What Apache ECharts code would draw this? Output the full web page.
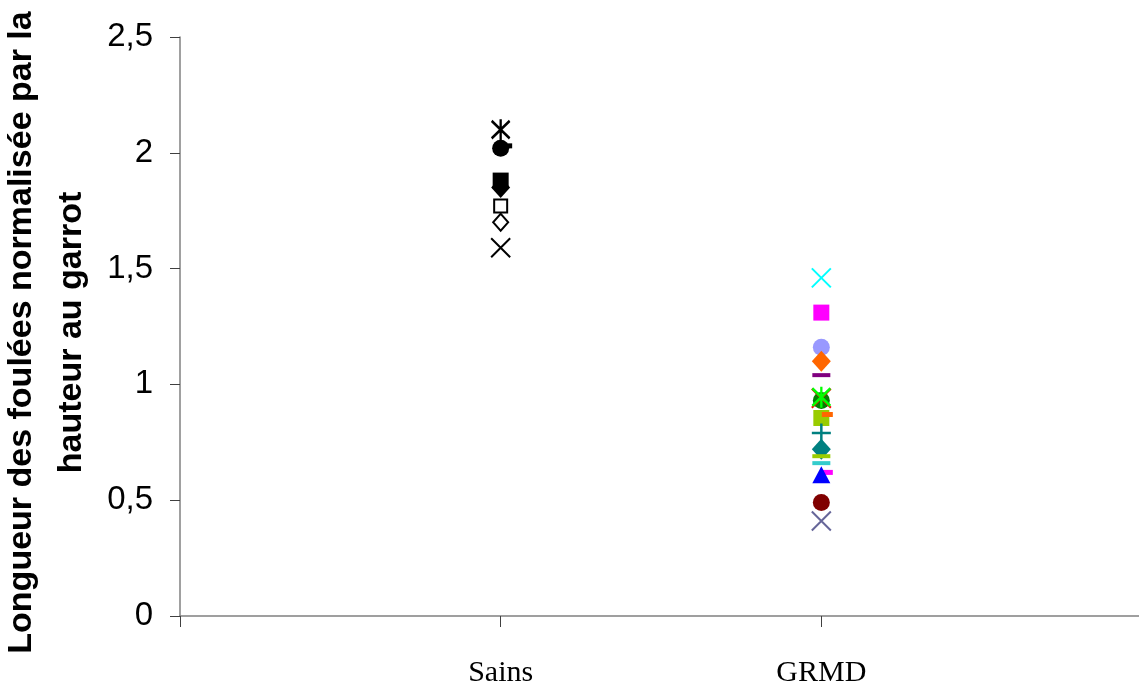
<!DOCTYPE html>
<html>
<head>
<meta charset="utf-8">
<script src="https://cdn.jsdelivr.net/npm/echarts@6/dist/echarts.min.js"></script>
<style>
html,body{margin:0;padding:0;background:#fff;}
#chart{width:1139px;height:691px;}
</style>
</head>
<body>
<div id="chart"></div>
<script>
// Categories (x positions 1 and 2)
const categories = ['Sains', 'GRMD'];
const yTicks = [0, 0.5, 1, 1.5, 2, 2.5];
const yTitle = 'Longueur des foulées normalisée par la\nhauteur au garrot';

// Sains dogs (all black markers)
const sainsValues = [2.10, 2.02, 2.03, 1.88, 1.85, 1.77, 1.70, 1.59];
const sainsMarkers = ['star', 'circle', 'shortdash', 'square', 'diamond', 'opensquare', 'opendiamond', 'x'];

// GRMD dogs
const grmdValues = [1.46, 1.31, 1.16, 1.10, 1.04, 0.93, 0.94, 0.945, 0.855, 0.87, 0.79, 0.72, 0.69, 0.66, 0.62, 0.61, 0.49, 0.41];
const grmdMarkers = ['x', 'square', 'circle', 'diamond', 'longdash', 'circle', 'x', 'star', 'square', 'shortdash', 'plus', 'diamond', 'longdash', 'longdash', 'shortdash', 'triangle', 'circle', 'x'];
const grmdColors = ['#00FFFF', '#FF00FF', '#9999FF', '#FF6600', '#800080', '#008000', '#FF0000', '#00FF00', '#99CC00', '#FF6600', '#008080', '#008080', '#99CC00', '#33CCCC', '#FF00FF', '#0000FF', '#800000', '#666699'];

function markerStyle(kind, color) {
  switch (kind) {
    case 'x': return {symbol: 'path://M0,0L10,10M10,0L0,10', symbolSize: 19, itemStyle: {color: 'rgba(0,0,0,0)', borderColor: color, borderWidth: 2, opacity: 1}};
    case 'star': return {symbol: 'path://M0,0L10,10M10,0L0,10M5,-1L5,11', symbolSize: [18, 21], itemStyle: {color: 'rgba(0,0,0,0)', borderColor: color, borderWidth: 2.5, opacity: 1}};
    case 'plus': return {symbol: 'path://M5,0L5,10M0,5L10,5', symbolSize: 19, itemStyle: {color: 'rgba(0,0,0,0)', borderColor: color, borderWidth: 2.5, opacity: 1}};
    case 'circle': return {symbol: 'circle', symbolSize: 17, itemStyle: {color: color, opacity: 1}};
    case 'square': return {symbol: 'rect', symbolSize: 16, itemStyle: {color: color, opacity: 1}};
    case 'diamond': return {symbol: 'diamond', symbolSize: [19, 21], itemStyle: {color: color, opacity: 1}};
    case 'triangle': return {symbol: 'triangle', symbolSize: [18, 17], itemStyle: {color: color, opacity: 1}};
    case 'opensquare': return {symbol: 'rect', symbolSize: 13, itemStyle: {color: '#fff', borderColor: color, borderWidth: 2, opacity: 1}};
    case 'opendiamond': return {symbol: 'diamond', symbolSize: [15, 17], itemStyle: {color: '#fff', borderColor: color, borderWidth: 2, opacity: 1}};
    case 'longdash': return {symbol: 'rect', symbolSize: [18, 4], itemStyle: {color: color, opacity: 1}};
    case 'shortdash': return {symbol: 'rect', symbolSize: [11, 5], symbolOffset: [6, 0], itemStyle: {color: color, opacity: 1}};
  }
}

const series = [];
sainsValues.forEach((v, i) => {
  series.push(Object.assign({type: 'scatter', data: [[1, v]], z: 2 + i}, markerStyle(sainsMarkers[i], '#000000')));
});
grmdValues.forEach((v, i) => {
  series.push(Object.assign({type: 'scatter', data: [[2, v]], z: 2 + i}, markerStyle(grmdMarkers[i], grmdColors[i])));
});

const chart = echarts.init(document.getElementById('chart'), null, {renderer: 'canvas'});
chart.setOption({
  animation: false,
  backgroundColor: '#ffffff',
  grid: {left: 180, top: 37, width: 962, bottom: 75, containLabel: false, outerBoundsMode: 'none'},
  xAxis: {
    type: 'value', min: 0, max: 3, interval: 1,
    splitLine: {show: false},
    axisLine: {lineStyle: {color: '#808080', width: 1.5}},
    axisTick: {show: true, length: 11, lineStyle: {color: '#404040', width: 1}},
    axisLabel: {
      margin: 42,
      fontFamily: 'Liberation Serif', fontSize: 30, color: '#000',
      formatter: v => (v >= 1 && v <= categories.length) ? categories[v - 1] : ''
    }
  },
  yAxis: {
    type: 'value', min: yTicks[0], max: yTicks[yTicks.length - 1], interval: 0.5,
    splitLine: {show: false},
    axisLine: {show: true, lineStyle: {color: '#808080', width: 1.5}},
    axisTick: {show: true, length: 10, lineStyle: {color: '#404040', width: 1}},
    axisLabel: {
      margin: 27, fontFamily: 'Liberation Sans', fontSize: 33, color: '#000',
      formatter: v => String(v).replace('.', ',')
    },
    name: yTitle,
    nameLocation: 'middle',
    nameRotate: 90,
    nameGap: 62,
    nameTextStyle: {fontFamily: 'Liberation Sans', fontWeight: 'bold', fontSize: 34, color: '#000', lineHeight: 50, align: 'center', padding: [0, 12, 0, 0]}
  },
  series: series
});
</script>
</body>
</html>
